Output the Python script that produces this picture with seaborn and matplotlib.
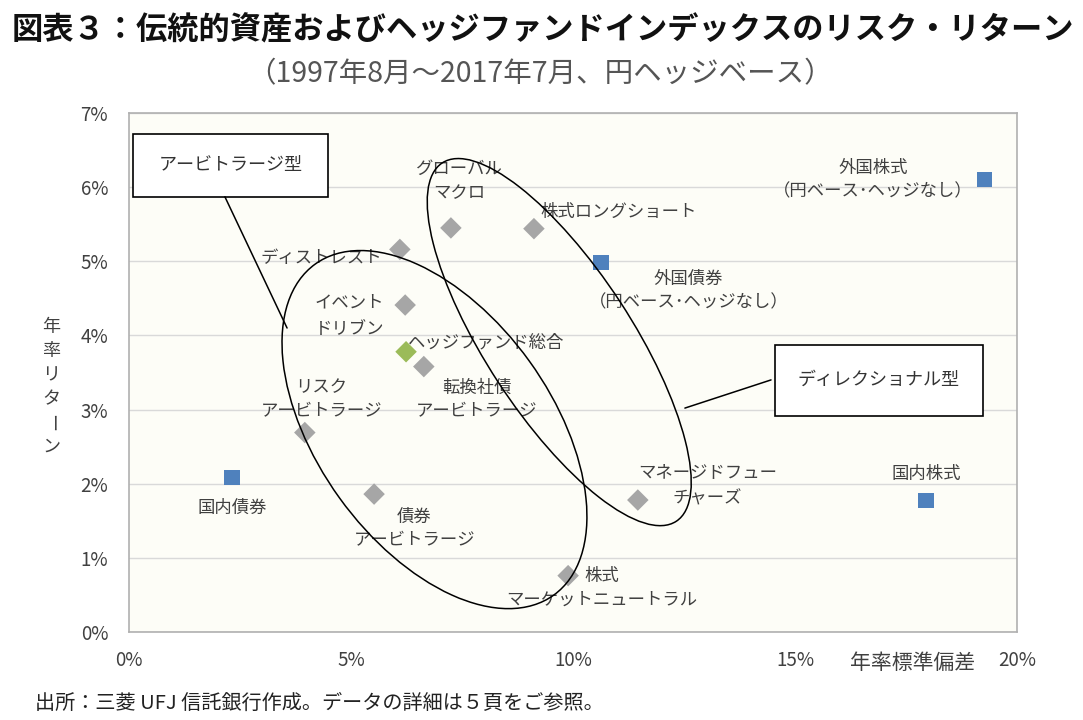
import numpy as np
import pandas as pd
import matplotlib
matplotlib.use("Agg")
import matplotlib.pyplot as plt
import matplotlib.transforms as mtransforms
from matplotlib.patches import Ellipse, Rectangle
import seaborn as sns

# ---- data (annual std dev %, annual return %) ----
names = ["国内債券", "外国株式\n（円ベース･ヘッジなし）", "外国債券\n（円ベース･ヘッジなし）", "国内株式",
         "ディストレスト", "グローバル\nマクロ", "株式ロングショート", "イベント\nドリブン",
         "ヘッジファンド総合", "転換社債\nアービトラージ", "リスク\nアービトラージ",
         "債券\nアービトラージ", "株式\nマーケットニュートラル", "マネージドフュー\nチャーズ"]
risk = [2.32, 19.26, 10.63, 17.95, 6.10, 7.25, 9.12, 6.22, 6.24, 6.64, 3.96, 5.52, 9.89, 11.46]
ret = [2.08, 6.10, 4.98, 1.77, 5.16, 5.45, 5.44, 4.41, 3.78, 3.58, 2.69, 1.86, 0.76, 1.78]
group = ["trad", "trad", "trad", "trad", "hf", "hf", "hf", "hf", "total", "hf", "hf", "hf", "hf", "hf"]

x_ticks = [0, 5, 10, 15, 20]
y_ticks = [0, 1, 2, 3, 4, 5, 6, 7]

title = "図表３：伝統的資産およびヘッジファンドインデックスのリスク・リターン"
subtitle = "（1997年8月～2017年7月、円ヘッジベース）"
footer = "出所：三菱 UFJ 信託銀行作成。データの詳細は５頁をご参照。"
xlabel = "年率標準偏差"
ylabel = "年率リターン"
box1_text = "アービトラージ型"
box2_text = "ディレクショナル型"

df = pd.DataFrame({"name": names, "risk": risk, "ret": ret, "group": group})

sns.set_style("white")
plt.rcParams["font.family"] = ["Noto Sans CJK JP", "DejaVu Sans"]

fig = plt.figure(figsize=(10.83, 7.2), dpi=100)
ax = fig.add_axes([129 / 1083, 1 - 632 / 720, 888 / 1083, 519 / 720])
ax.set_facecolor("#FDFDF7")

palette = {"trad": "#4F81BD", "hf": "#A6A6A6", "total": "#9BBB59"}
markers = {"trad": "s", "hf": "D", "total": "D"}
sns.scatterplot(data=df, x="risk", y="ret", hue="group", style="group",
                palette=palette, markers=markers, s=120, edgecolor="none",
                legend=False, ax=ax, zorder=3)

ax.set_xlim(0, 20)
ax.set_ylim(0, 7)
ax.set_xticks(x_ticks)
ax.set_yticks(y_ticks)
ax.set_xticklabels([f"{v}%" for v in x_ticks])
ax.set_yticklabels([f"{v}%" for v in y_ticks])
ax.tick_params(axis="both", length=0, labelsize=13.5, colors="#404040")
ax.tick_params(axis="x", pad=13)
ax.tick_params(axis="y", pad=15)
ax.set_xlabel("")
ax.set_ylabel("")
ax.yaxis.grid(True, color="#D9D9D9", lw=1)
ax.xaxis.grid(False)
for sp in ax.spines.values():
    sp.set_color("#B0B0B0")
    sp.set_linewidth(1.2)

# ---- point labels (offsets in points) ----
offsets = {
    "国内債券": (0, -22, "center", 1.35),
    "外国株式\n（円ベース･ヘッジなし）": (-80, 0, "center", 1.35),
    "外国債券\n（円ベース･ヘッジなし）": (63, -20, "center", 1.4),
    "国内株式": (0, 19, "center", 1.35),
    "ディストレスト": (-13, -6, "right", 1.35),
    "グローバル\nマクロ": (6, 34, "center", 1.45),
    "株式ロングショート": (5, 12, "left", 1.35),
    "イベント\nドリブン": (-40, -8, "center", 1.6),
    "ヘッジファンド総合": (1, 7, "left", 1.35),
    "転換社債\nアービトラージ": (38, -24, "center", 1.4),
    "リスク\nアービトラージ": (12, 24, "center", 1.4),
    "債券\nアービトラージ": (29, -25, "center", 1.4),
    "株式\nマーケットニュートラル": (24, -9, "center", 1.4),
    "マネージドフュー\nチャーズ": (50, 11, "center", 1.6),
}
for n, xv, yv in zip(names, risk, ret):
    dx, dy, ha, ls = offsets[n]
    ax.annotate(n, (xv, yv), xytext=(dx, dy), textcoords="offset points",
                ha=ha, va="center", fontsize=12.5, color="#404040",
                linespacing=ls, zorder=4)

# ---- ellipses (sizes in pixels, centred in data coords) ----
def add_ellipse(cx, cy, a_px, b_px, angle):
    tr = (mtransforms.Affine2D().scale(1 / 100) + fig.dpi_scale_trans
          + mtransforms.ScaledTranslation(cx, cy, ax.transData))
    e = Ellipse((0, 0), 2 * a_px, 2 * b_px, angle=angle, transform=tr,
                fill=False, edgecolor="black", lw=1.1, zorder=5)
    ax.add_patch(e)

add_ellipse(6.88, 2.73, 204, 117, -54.2)
add_ellipse(9.69, 3.91, 214, 73, -56.85)

# ---- callout boxes ----
ax.add_patch(Rectangle((0.09, 5.87), 4.39, 0.85, facecolor="white",
                       edgecolor="black", lw=1.2, zorder=6))
ax.text(2.29, 6.30, box1_text, ha="center", va="center", fontsize=13,
        color="#333333", zorder=7)
ax.plot([2.16, 3.56], [5.87, 4.10], color="black", lw=1.1, zorder=6)

ax.add_patch(Rectangle((14.55, 2.92), 4.68, 0.95, facecolor="white",
                       edgecolor="black", lw=1.2, zorder=6))
ax.text(16.89, 3.40, box2_text, ha="center", va="center", fontsize=13,
        color="#333333", zorder=7)
ax.plot([14.46, 12.52], [3.40, 3.02], color="black", lw=1.1, zorder=6)

# ---- axis labels ----
fig.text(913 / 1083, 1 - 663 / 720, xlabel, ha="center", va="center",
         fontsize=15, color="#404040")
for i, ch in enumerate(ylabel):
    fig.text(51 / 1083, 1 - (327 + i * 24) / 720, ch, ha="center", va="center",
             fontsize=13, color="#404040", rotation=(-90 if ch == "ー" else 0))

# ---- titles / footer ----
fig.text(543 / 1083, 1 - 30 / 720, title, ha="center", va="center",
         fontsize=22.5, fontweight="bold", color="#111111")
fig.text(540 / 1083, 1 - 74 / 720, subtitle, ha="center", va="center",
         fontsize=20.5, color="#555555")
fig.text(35 / 1083, 1 - 703 / 720, footer, ha="left", va="center",
         fontsize=14.5, color="#222222")

fig.savefig("out.png", dpi=100, facecolor="white")
